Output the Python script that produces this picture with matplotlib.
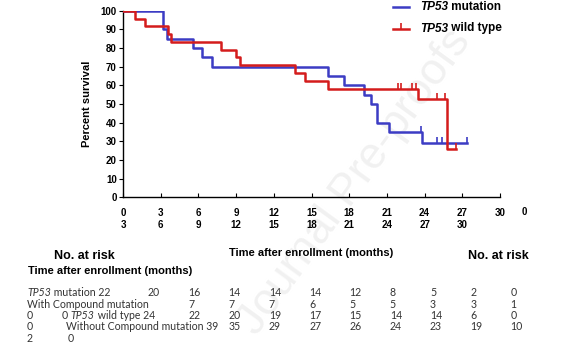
import matplotlib
matplotlib.use("Agg")
import matplotlib.pyplot as plt
from matplotlib.lines import Line2D

# survival curves (months, percent)
mut_t = [0, 3.2, 3.5, 5.6, 6.3, 7.1, 16.3, 17.6, 19.2, 19.7, 20.2, 21.2, 23.8, 27.4]
mut_s = [100, 90, 85, 80, 75, 70, 65, 60, 55, 50, 40, 35, 29.2, 29.2]
mut_cens_t = [1.3, 2.75, 23.75, 25.0, 25.4, 27.4]
mut_cens_s = [100, 100, 35, 29.2, 29.2, 29.2]

wt_t = [0, 0.95, 1.75, 3.6, 3.8, 7.8, 9.0, 9.3, 13.7, 14.5, 16.3, 23.5, 25.8, 26.5]
wt_s = [100, 95.8, 91.7, 87.5, 83.3, 79.2, 75, 70.8, 66.7, 62.5, 58.3, 52.5, 26.2, 26.2]
wt_cens_t = [21.9, 22.1, 23.0, 23.3, 25.0, 25.6, 26.5]
wt_cens_s = [58.3, 58.3, 58.3, 58.3, 52.5, 52.5, 26.2]

xticks = list(range(0, 31, 3))
yticks = list(range(0, 101, 10))

# numbers at risk table rows
mut_risk = [20, 16, 14, 14, 14, 12, 8, 5, 2, 0]
comp_risk = [7, 7, 7, 6, 5, 5, 3, 3, 1]
wt_risk = [22, 20, 19, 17, 15, 14, 14, 6, 0]
nocomp_risk = [35, 29, 27, 26, 24, 23, 19, 10]

BLUE = "#3c3cc4"
RED = "#d41c1c"
W, H = 561, 364

fig = plt.figure(figsize=(W / 100, H / 100), dpi=100)
plt.rcParams['font.family'] = ['Liberation Sans', 'DejaVu Sans']


def px(x, y):
    return x / W, 1 - y / H


# watermark
fig.text(*px(355, 182), "Journal Pre-proofs", rotation=54, fontsize=32, color="#f1f1f1",
         ha="center", va="center", zorder=-1)

ax = fig.add_axes([123 / W, 1 - 197.5 / H, (500 - 123) / W, (197.5 - 10.7) / H])
ax.patch.set_alpha(0)
ax.step(mut_t, mut_s, where="post", color=BLUE, lw=1.8, zorder=3)
ax.step(wt_t, wt_s, where="post", color=RED, lw=1.8, zorder=4)
ax.plot(mut_cens_t, mut_cens_s, ls="none", marker=2, ms=4, mew=1.2, color=BLUE, zorder=3)
ax.plot(wt_cens_t, wt_cens_s, ls="none", marker=2, ms=4, mew=1.2, color=RED, zorder=4)

ax.set_xlim(0, 30)
ax.set_ylim(0, 100)
ax.spines[["top", "right"]].set_visible(False)
ax.spines[["left", "bottom"]].set_linewidth(1.0)
ax.set_yticks(yticks)
ax.set_yticklabels([str(v) for v in yticks], fontsize=7, fontweight="bold")
ax.set_xticks(xticks)
ax.set_xticklabels([f"{t}\n{t + 3}" if t < 30 else f"{t}\n " for t in xticks],
                   fontsize=7, fontweight="bold", linespacing=1.25)
ax.tick_params(axis="y", length=3, width=0.8, pad=1.5)
ax.tick_params(axis="x", direction="in", length=3, width=0.8, pad=7.5)
fig.text(*px(524, 212), "0", fontsize=7, fontweight="bold", ha="center", va="center")
ax.set_ylabel("Percent survival", fontsize=8, fontweight="bold", labelpad=6)

# legend
for yy, col, lab in [(7, BLUE, " mutation"), (28.5, RED, " wild type")]:
    x0, y0 = px(393, yy)
    x1, _ = px(409, yy)
    fig.add_artist(Line2D([x0, x1], [y0, y0], color=col, lw=1.8))
    if col == RED:
        fig.add_artist(Line2D([(x0 + x1) / 2], [y0], marker=2, ms=4, mew=1.2, color=col))
    t1 = fig.text(*px(420, yy), "TP53", fontsize=8.5, fontweight="bold", style="italic",
                  va="center")
    ax.annotate(lab, xy=(1, 0.5), xycoords=t1, va="center", fontsize=8.5,
                fontweight="bold", annotation_clip=False)

# headers below
fig.text(*px(84, 256), "No. at risk", fontsize=9, fontweight="bold", ha="center", va="center")
fig.text(*px(28, 271), "Time after enrollment (months)", fontsize=8, fontweight="bold",
         va="center")
fig.text(*px(311, 253), "Time after enrollment (months)", fontsize=8, fontweight="bold",
         ha="center", va="center")
fig.text(*px(498, 256), "No. at risk", fontsize=9, fontweight="bold", ha="center", va="center")

# numbers at risk table
col_x = [27 + 40.3 * i for i in range(13)]
TF = dict(fontsize=7.6, color="#333333", va="center", family=["Lato", "DejaVu Sans"])
row_y = [292, 304, 315.5, 327, 339]


def row_label(x, y, pre, italic, post):
    if pre:
        t = fig.text(*px(x, y), pre, **TF)
        t = ax.annotate(italic, xy=(1, 0.5), xycoords=t, style="italic",
                        annotation_clip=False, **TF)
    else:
        t = fig.text(*px(x, y), italic, style="italic", **TF)
    ax.annotate(post, xy=(1, 0.5), xycoords=t, annotation_clip=False, **TF)


row_label(col_x[0], row_y[0], "", "TP53", " mutation 22")
for i, v in enumerate(mut_risk):
    fig.text(*px(col_x[3 + i], row_y[0]), str(v), **TF)

fig.text(*px(col_x[0], row_y[1]), "With Compound mutation", **TF)
for i, v in enumerate(comp_risk):
    fig.text(*px(col_x[4 + i], row_y[1]), str(v), **TF)

fig.text(*px(col_x[0], row_y[2]), "0", **TF)
row_label(62, row_y[2], "0 ", "TP53", " wild type 24")
for i, v in enumerate(wt_risk):
    fig.text(*px(col_x[4 + i], row_y[2]), str(v), **TF)

fig.text(*px(col_x[0], row_y[3]), "0", **TF)
fig.text(*px(66, row_y[3]), "Without Compound mutation 39", **TF)
for i, v in enumerate(nocomp_risk):
    fig.text(*px(col_x[5 + i], row_y[3]), str(v), **TF)

fig.text(*px(col_x[0], row_y[4]), "2", **TF)
fig.text(*px(68, row_y[4]), "0", **TF)

fig.savefig("out.png", dpi=100)
